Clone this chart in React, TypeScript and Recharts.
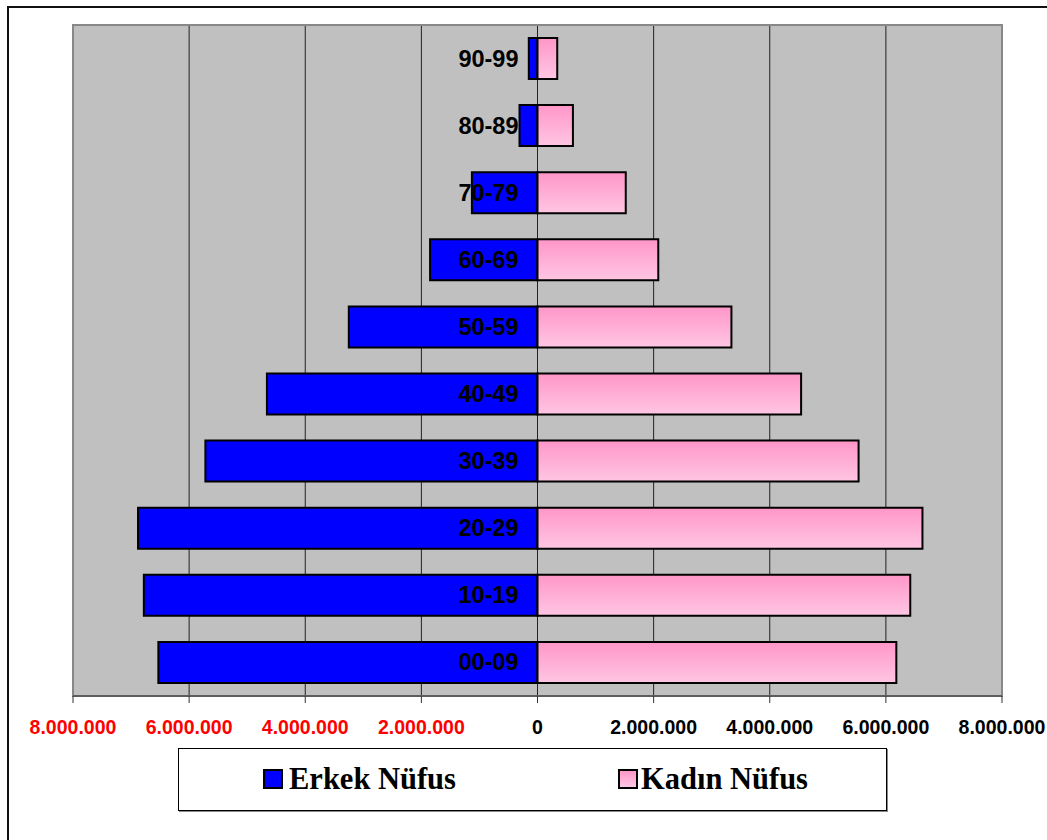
import { BarChart, Bar, XAxis, YAxis, CartesianGrid, ReferenceArea, LabelList } from 'recharts'

const ageGroups = ['00-09', '10-19', '20-29', '30-39', '40-49', '50-59', '60-69', '70-79', '80-89', '90-99']
const erkek = [6530000, 6780000, 6880000, 5720000, 4660000, 3250000, 1850000, 1130000, 310000, 150000]
const kadin = [6180000, 6420000, 6630000, 5530000, 4540000, 3340000, 2080000, 1520000, 610000, 340000]
const xTicks = [-8000000, -6000000, -4000000, -2000000, 0, 2000000, 4000000, 6000000, 8000000]
const seriesNames = ['Erkek Nüfus', 'Kadın Nüfus']

const data = ageGroups.map((age, i) => ({ age, erkek: -erkek[i], kadin: kadin[i] }))

const fmt = (v: number) => String(Math.abs(v)).replace(/\B(?=(\d{3})+(?!\d))/g, '.')

const XTick = (props: any) => {
  const { x, y, payload } = props
  const v = payload.value
  return (
    <text
      x={x}
      y={y + 29}
      textAnchor="middle"
      fontFamily="'Liberation Sans', Arial, sans-serif"
      fontWeight="bold"
      fontSize={19.5}
      fill={v < 0 ? '#FF0000' : '#000'}
    >
      {fmt(v)}
    </text>
  )
}

const AgeLabel = (props: any) => {
  const { x, y, height, value } = props
  return (
    <text
      x={x - 19}
      y={y + height / 2 + 8}
      textAnchor="end"
      fontFamily="'Liberation Sans', Arial, sans-serif"
      fontWeight="bold"
      fontSize={23.5}
      fill="#000"
    >
      {value}
    </text>
  )
}

const pinkFill = 'linear-gradient(to bottom, #FF96C8, #FFC6E3)'

export default function App() {
  return (
    <div style={{ position: 'absolute', left: 0, top: 0, width: 1047, height: 840, background: '#fff', overflow: 'hidden' }}>
      <div style={{ position: 'absolute', left: 7, top: 6, width: 1100, height: 900, borderLeft: '2px solid #111', borderTop: '2px solid #111' }} />
      <div style={{ position: 'absolute', left: 0, top: 0 }}>
        <BarChart
          width={1047}
          height={840}
          data={data}
          layout="vertical"
          stackOffset="sign"
          barSize={41}
          margin={{ top: 25, right: 45, bottom: 104, left: 73 }}
        >
          <defs>
            <linearGradient id="pink" x1="0" y1="0" x2="0" y2="1">
              <stop offset="0%" stopColor="#FF96C8" />
              <stop offset="100%" stopColor="#FFC6E3" />
            </linearGradient>
          </defs>
          <CartesianGrid horizontal={false} stroke="#222" fill="#C0C0C0" fillOpacity={1} />
          <ReferenceArea x1={-8000000} x2={8000000} fill="none" stroke="#888" strokeWidth={2} ifOverflow="visible" />
          <XAxis
            type="number"
            domain={[-8000000, 8000000]}
            ticks={xTicks}
            interval={0}
            height={40}
            stroke="#333"
            tickSize={7}
            tick={<XTick />}
          />
          <YAxis type="category" dataKey="age" reversed hide />
          <Bar dataKey="erkek" name={seriesNames[0]} stackId="a" fill="#0000FF" stroke="#000" strokeWidth={2} isAnimationActive={false} />
          <Bar dataKey="kadin" name={seriesNames[1]} stackId="a" fill="url(#pink)" stroke="#000" strokeWidth={2} isAnimationActive={false}>
            <LabelList dataKey="age" content={<AgeLabel />} />
          </Bar>
        </BarChart>
      </div>
      <div
        style={{
          position: 'absolute',
          left: 178,
          top: 748,
          width: 707,
          height: 61,
          border: '1px solid #000',
          boxShadow: '1px 1px 0 #888',
          fontFamily: "'Liberation Serif', 'Times New Roman', serif",
          fontWeight: 'bold',
          fontSize: 30.5,
        }}
      >
        {seriesNames.map((name, i) => (
          <div key={name} style={{ position: 'absolute', left: i === 0 ? 84 : 439, top: 13, display: 'flex', alignItems: 'center', whiteSpace: 'nowrap' }}>
            <span
              style={{
                display: 'inline-block',
                width: 16,
                height: 16,
                border: '2px solid #000',
                background: i === 0 ? '#0000FF' : pinkFill,
                marginRight: i === 0 ? 6 : 3,
              }}
            />
            <span style={{ lineHeight: '34px' }}>{name}</span>
          </div>
        ))}
      </div>
    </div>
  )
}
